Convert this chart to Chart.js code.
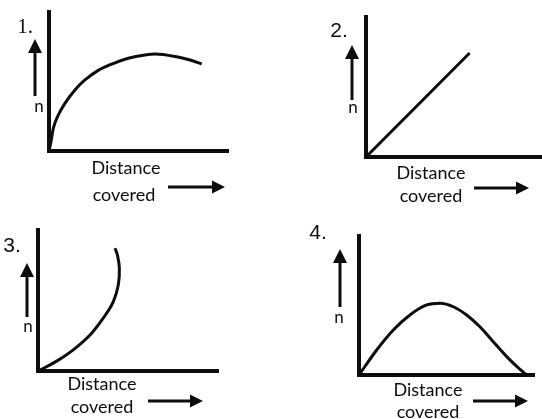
<!DOCTYPE html>
<html>
<head>
<meta charset="utf-8">
<script src="https://cdn.jsdelivr.net/npm/chart.js@4.4.1/dist/chart.umd.min.js"></script>
<style>
  body { margin: 0; background: #fff; }
  #wrap { position: relative; width: 542px; height: 419px; }
  #wrap canvas { position: absolute; left: 0; top: 0; }
</style>
</head>
<body>
<div id="wrap">
  <canvas id="c1" width="542" height="419"></canvas>
  <canvas id="c2" width="542" height="419"></canvas>
  <canvas id="c3" width="542" height="419"></canvas>
  <canvas id="c4" width="542" height="419"></canvas>
</div>
<script>
// values, both axes 0..100 for each graph
// graph 1: n rises fast, flattens, then falls a bit
const dist1 = [0, 1.1, 2.4, 5.2, 8.9, 14.5, 20.1, 27.5, 35, 44.3, 53.6, 59.2, 71.3, 78.8, 85.3];
const n1 = [0, 6.7, 16.3, 25.9, 34.3, 43.9, 51.1, 58, 62.5, 66.7, 69.1, 69.8, 67.8, 65.5, 62.6];
// graph 2: straight line
const dist2 = [0, 58.9];
const n2 = [0, 74.3];
// graph 3: bends up and back
const dist3 = [0, 10.4, 19.6, 28.9, 36.3, 41.8, 44.6, 45.2, 44.1, 42.8];
const n3 = [0, 7, 15, 25.5, 37.6, 49.1, 61, 73, 82.3, 87];
// graph 4: hump back down to zero
const dist4 = [0, 10.1, 19.6, 29.1, 38.7, 46.3, 53.9, 61.5, 69.1, 76.7, 84.4, 92, 95.8];
const n4 = [0, 18, 32.4, 43.2, 50.4, 51.6, 49.1, 43.2, 34.7, 24, 13.2, 4, 0];

const panelLabels = ["1.", "2.", "3.", "4."];
const xLabel = ["Distance", "covered"];
const yLabel = "n";

const series = [[dist1, n1], [dist2, n2], [dist3, n3], [dist4, n4]];

// where each little graph sits on the page
const layouts = [
  { area: [49, 12, 228, 151], num: [25, 27], serif: true, up: [35, 96, 39], n: [39, 107], dist: [126, 168], cov: [124, 195], right: [168, 225, 187] },
  { area: [366, 17, 542, 157], num: [339, 31], serif: false, up: [352, 100, 45], n: [353, 108], dist: [431, 173], cov: [431, 196], right: [474, 529, 188] },
  { area: [38, 230, 218, 371], num: [12, 246], serif: false, up: [27, 317, 263], n: [28, 327], dist: [102, 384], cov: [102, 407], right: [148, 203, 401] },
  { area: [359, 236, 534, 375], num: [318, 233], serif: false, up: [340, 307, 249], n: [339, 318], dist: [428, 390], cov: [428, 412], right: [473, 528, 401] }
];
// graph 3 turns back on itself, so it cannot use monotone smoothing
const curveModes = ["monotone", "default", "default", "monotone"];

const INK = "#0d0d0d";

const decor = {
  id: "decor",
  afterDatasetsDraw(chart, args, opts) {
    const ctx = chart.ctx;
    const L = opts.layout;
    ctx.save();
    ctx.fillStyle = INK;
    ctx.strokeStyle = INK;
    ctx.lineWidth = 3;

    // up arrow next to n
    const [ux, uy1, uy2] = L.up;
    ctx.beginPath();
    ctx.moveTo(ux, uy1);
    ctx.lineTo(ux, uy2 + 10);
    ctx.stroke();
    ctx.beginPath();
    ctx.moveTo(ux, uy2);
    ctx.lineTo(ux - 7, uy2 + 14);
    ctx.lineTo(ux + 7, uy2 + 14);
    ctx.closePath();
    ctx.fill();

    // right arrow
    const [rx1, rx2, ry] = L.right;
    ctx.beginPath();
    ctx.moveTo(rx1, ry);
    ctx.lineTo(rx2 - 10, ry);
    ctx.stroke();
    ctx.beginPath();
    ctx.moveTo(rx2, ry);
    ctx.lineTo(rx2 - 13, ry - 6.5);
    ctx.lineTo(rx2 - 13, ry + 6.5);
    ctx.closePath();
    ctx.fill();

    ctx.textAlign = "center";
    ctx.textBaseline = "middle";
    ctx.font = L.serif ? "21px 'Liberation Serif'" : "21px 'Liberation Sans'";
    ctx.fillText(opts.label, L.num[0], L.num[1]);

    ctx.font = "17px Lato";
    ctx.fillText(yLabel, L.n[0], L.n[1]);
    ctx.font = "18px Lato";
    ctx.fillText(xLabel[0], L.dist[0], L.dist[1]);
    ctx.fillText(xLabel[1], L.cov[0], L.cov[1]);
    ctx.restore();
  }
};

Chart.register(decor);
Chart.defaults.font.family = "Lato";

series.forEach(([xs, ys], i) => {
  const L = layouts[i];
  const [left, top, right, bottom] = L.area;
  new Chart(document.getElementById("c" + (i + 1)), {
    type: "line",
    data: {
      datasets: [{
        data: xs.map((x, k) => ({ x: x, y: ys[k] })),
        borderColor: INK,
        borderWidth: 3,
        pointRadius: 0,
        tension: 0.4,
        cubicInterpolationMode: curveModes[i],
        fill: false,
        clip: false
      }]
    },
    options: {
      responsive: false,
      animation: false,
      events: [],
      layout: {
        padding: { left: left, top: top, right: 542 - right, bottom: 419 - bottom }
      },
      plugins: {
        legend: { display: false },
        tooltip: { enabled: false },
        decor: { layout: L, label: panelLabels[i] }
      },
      scales: {
        x: {
          type: "linear",
          min: 0,
          max: 100,
          ticks: { display: false },
          grid: { display: false },
          border: { display: true, color: INK, width: 4 },
          afterFit: (s) => { s.height = 0; }
        },
        y: {
          type: "linear",
          min: 0,
          max: 100,
          ticks: { display: false },
          grid: { display: false },
          border: { display: true, color: INK, width: 4 },
          afterFit: (s) => { s.width = 0; }
        }
      }
    }
  });
});
</script>
</body>
</html>
